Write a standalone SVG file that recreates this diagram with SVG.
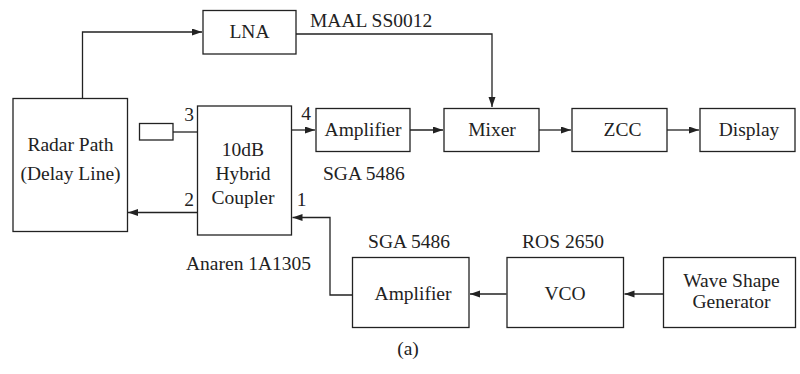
<svg xmlns="http://www.w3.org/2000/svg" width="800" height="374" viewBox="0 0 800 374">
<style>
.box{fill:#fff;stroke:#222;stroke-width:1.3}
.ln{fill:none;stroke:#222;stroke-width:1.3}
text{font-family:"Liberation Serif","Times New Roman",serif;font-size:19.5px;fill:#222}
.c{text-anchor:middle}
</style>
<defs>
<marker id="ah" markerUnits="userSpaceOnUse" markerWidth="11" markerHeight="8" refX="10" refY="3.5" orient="auto">
<path d="M0,0 L10,3.5 L0,7 z" fill="#222"/>
</marker>
</defs>
<rect width="800" height="374" fill="#fff"/>
<g id="connectors">
<path class="ln" d="M82.5,98 V32 H202" marker-end="url(#ah)"/>
<path class="ln" d="M296,34 H492 V107" marker-end="url(#ah)"/>
<path class="ln" d="M173,132 H197"/>
<path class="ln" d="M291.5,130 H315" marker-end="url(#ah)"/>
<path class="ln" d="M410,130 H443" marker-end="url(#ah)"/>
<path class="ln" d="M539,130 H571" marker-end="url(#ah)"/>
<path class="ln" d="M667,130 H699" marker-end="url(#ah)"/>
<path class="ln" d="M197,212.5 H128" marker-end="url(#ah)"/>
<path class="ln" d="M352.5,295 H330 V217.5 H292.5" marker-end="url(#ah)"/>
<path class="ln" d="M663,294 H624.5" marker-end="url(#ah)"/>
<path class="ln" d="M506.5,294 H470" marker-end="url(#ah)"/>
</g>
<g id="lna"><rect class="box" x="203" y="10.5" width="93" height="43.5"/><text class="c" x="249.5" y="38">LNA</text></g>
<text x="310" y="27">MAAL SS0012</text>
<g id="radar"><rect class="box" x="13" y="98.5" width="114.5" height="133"/><text class="c" x="70.5" y="151">Radar Path</text><text class="c" x="70.5" y="180">(Delay Line)</text></g>
<g id="load"><rect class="box" x="139.5" y="123.5" width="33.5" height="16.5"/></g>
<g id="coupler"><rect class="box" x="197.5" y="106" width="94" height="129"/><text class="c" x="243" y="156">10dB</text><text class="c" x="243" y="180">Hybrid</text><text class="c" x="243" y="204">Coupler</text></g>
<text class="c" x="189" y="121">3</text>
<text class="c" x="306" y="120">4</text>
<text class="c" x="189" y="206">2</text>
<text class="c" x="301.5" y="206">1</text>
<text x="186" y="270">Anaren 1A1305</text>
<g id="amp1"><rect class="box" x="316" y="108.5" width="94" height="43"/><text class="c" x="363" y="136">Amplifier</text></g>
<text x="323" y="180">SGA 5486</text>
<g id="mixer"><rect class="box" x="444" y="108.5" width="95" height="43"/><text class="c" x="492" y="136">Mixer</text></g>
<g id="zcc"><rect class="box" x="572" y="108.5" width="95" height="43"/><text class="c" x="622.5" y="136">ZCC</text></g>
<g id="display"><rect class="box" x="700" y="108.5" width="95" height="43"/><text class="c" x="749" y="136">Display</text></g>
<g id="amp2"><rect class="box" x="352.5" y="257.5" width="116.5" height="70"/><text class="c" x="413" y="299.5">Amplifier</text></g>
<text class="c" x="409" y="248">SGA 5486</text>
<g id="vco"><rect class="box" x="507" y="257.5" width="116.5" height="70"/><text class="c" x="565" y="300">VCO</text></g>
<text class="c" x="563" y="248">ROS 2650</text>
<g id="wsg"><rect class="box" x="663.5" y="257.5" width="132" height="70"/><text class="c" x="731.5" y="287">Wave Shape</text><text class="c" x="731.5" y="308">Generator</text></g>
<text class="c" x="408" y="355">(a)</text>
</svg>
